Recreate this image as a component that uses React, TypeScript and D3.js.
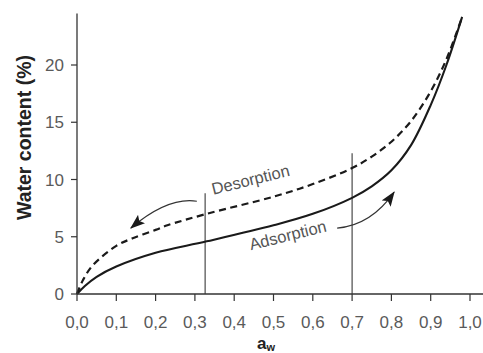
import React from 'react';
import * as d3 from 'd3';

const W = 483;
const H = 353;

const xTicks = [0, 0.1, 0.2, 0.3, 0.4, 0.5, 0.6, 0.7, 0.8, 0.9, 1.0];
const xTickLabels = ['0,0', '0,1', '0,2', '0,3', '0,4', '0,5', '0,6', '0,7', '0,8', '0,9', '1,0'];
const yTicks = [0, 5, 10, 15, 20];

const adsorptionAw = [0, 0.02, 0.05, 0.1, 0.2, 0.33, 0.5, 0.6, 0.7, 0.75, 0.8, 0.85, 0.9, 0.94, 0.98];
const adsorptionWc = [0, 0.7, 1.5, 2.4, 3.6, 4.6, 6.0, 7.0, 8.4, 9.4, 10.8, 13.0, 16.5, 20.0, 24.2];

const desorptionAw = [0, 0.015, 0.04, 0.1, 0.14, 0.2, 0.23, 0.33, 0.5, 0.6, 0.7, 0.75, 0.8, 0.85, 0.9, 0.94, 0.98];
const desorptionWc = [0, 1.2, 2.5, 4.2, 4.85, 5.6, 6.0, 7.0, 8.5, 9.6, 11.0, 12.0, 13.3, 15.1, 17.7, 20.5, 24.2];

const guideAw = [0.326, 0.7];
const guideTop = [8.8, 12.3];

// annotation arrows: [start, control, tip] in data units
const desArrow = [[0.305, 8.1], [0.232, 8.5], [0.137, 5.76]];
const adsArrow = [[0.662, 5.76], [0.748, 6.0], [0.807, 8.9]];

const labelDes = { text: 'Desorption', aw: 0.445, wc: 9.5, angle: -14 };
const labelAds = { text: 'Adsorption', aw: 0.54, wc: 4.65, angle: -14 };

export default function App() {
  const x = d3.scaleLinear().domain([0, 1]).range([77, 470]);
  const y = d3.scaleLinear().domain([0, 20]).range([294, 65]);

  const line = d3
    .line<[number, number]>()
    .x((d) => x(d[0]))
    .y((d) => y(d[1]))
    .curve(d3.curveCatmullRom.alpha(0.5));

  const ads = adsorptionAw.map((a, i) => [a, adsorptionWc[i]] as [number, number]);
  const des = desorptionAw.map((a, i) => [a, desorptionWc[i]] as [number, number]);

  const quad = (p: number[][]) => {
    const path = d3.path();
    path.moveTo(x(p[0][0]), y(p[0][1]));
    path.quadraticCurveTo(x(p[1][0]), y(p[1][1]), x(p[2][0]), y(p[2][1]));
    return path.toString();
  };

  const axisColor = '#333';
  const tickColor = '#5a5a5a';
  const font = '"Liberation Sans", Arial, Helvetica, sans-serif';

  return (
    <svg
      width={W}
      height={H}
      style={{ position: 'absolute', left: 0, top: 0, background: '#fff' }}
      fontFamily={font}
    >
      <defs>
        <marker
          id="ah"
          markerUnits="userSpaceOnUse"
          markerWidth={15}
          markerHeight={11}
          refX={14}
          refY={5.5}
          orient="auto"
        >
          <path d="M0,0 L15,5.5 L0,11 L3,5.5 z" fill="#1a1a1a" />
        </marker>
      </defs>

      {/* guide lines */}
      {guideAw.map((a, i) => (
        <line
          key={'g' + i}
          x1={x(a)}
          x2={x(a)}
          y1={y(0)}
          y2={y(guideTop[i])}
          stroke="#3a3a3a"
          strokeWidth={1.1}
        />
      ))}

      {/* curves */}
      <path d={line(des) || ''} fill="none" stroke="#1a1a1a" strokeWidth={2.2} strokeDasharray="7,4.5" />
      <path d={line(ads) || ''} fill="none" stroke="#1a1a1a" strokeWidth={2.1} />

      {/* arrows */}
      <path d={quad(desArrow)} fill="none" stroke="#333" strokeWidth={1.2} markerEnd="url(#ah)" />
      <path d={quad(adsArrow)} fill="none" stroke="#333" strokeWidth={1.2} markerEnd="url(#ah)" />

      {/* annotation labels */}
      {[labelDes, labelAds].map((l) => (
        <text
          key={l.text}
          x={x(l.aw)}
          y={y(l.wc)}
          transform={`rotate(${l.angle}, ${x(l.aw)}, ${y(l.wc)})`}
          textAnchor="middle"
          fontSize={16.5}
          fill="#555"
        >
          {l.text}
        </text>
      ))}

      {/* axes */}
      <line x1={x(0)} x2={x(1.04)} y1={y(0)} y2={y(0)} stroke={axisColor} strokeWidth={1.3} />
      <line x1={x(0)} x2={x(0)} y1={y(0)} y2={y(24.5)} stroke={axisColor} strokeWidth={1.3} />

      {xTicks.map((t, i) => (
        <g key={'xt' + i}>
          <line x1={x(t)} x2={x(t)} y1={y(0)} y2={y(0) + 7} stroke={axisColor} strokeWidth={1.2} />
          <text x={x(t)} y={328} textAnchor="middle" fontSize={17} fill={tickColor}>
            {xTickLabels[i]}
          </text>
        </g>
      ))}

      {yTicks.map((t) => (
        <g key={'yt' + t}>
          <line x1={x(0) - 6} x2={x(0)} y1={y(t)} y2={y(t)} stroke={axisColor} strokeWidth={1.2} />
          <text x={64} y={y(t)} dy="0.36em" textAnchor="end" fontSize={17} fill={tickColor}>
            {t}
          </text>
        </g>
      ))}

      {/* axis titles */}
      <text
        x={24}
        y={137.5}
        transform="rotate(-90, 24, 137.5)"
        dy="0.36em"
        textAnchor="middle"
        fontSize={19.5}
        fontWeight="bold"
        fill="#222"
      >
        Water content (%)
      </text>
      <text x={266} y={349} textAnchor="middle" fontSize={17} fontWeight="bold" fill="#222">
        a<tspan fontSize={11} dy={2}>w</tspan>
      </text>
    </svg>
  );
}
